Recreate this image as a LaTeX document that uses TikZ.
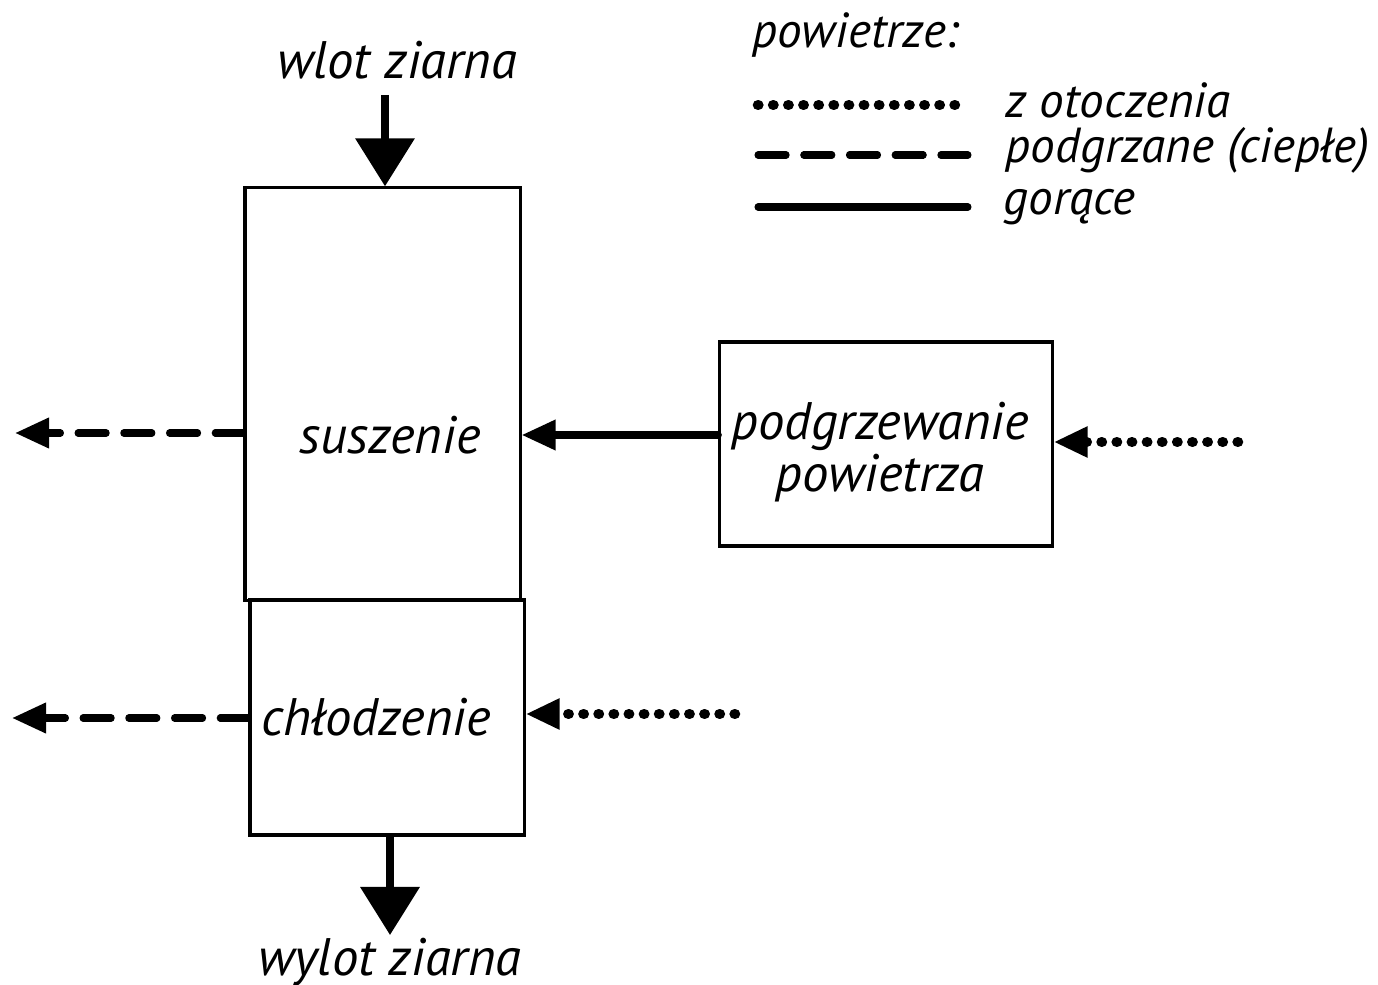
\documentclass[tikz,border=0pt]{standalone}
\usepackage{fontspec}
\setmainfont{PT Sans}
\usetikzlibrary{arrows.meta,positioning}

\begin{document}
\begin{tikzpicture}[x=0.01cm,y=-0.01cm]
\tikzset{
  procbox/.style={draw,line width=0.9pt,inner sep=0pt},
  label/.style={font=\fontsize{15}{15}\selectfont\itshape,inner sep=0pt},
  legendlabel/.style={font=\fontsize{14}{14}\selectfont\itshape,inner sep=0pt,anchor=west},
  grain/.style={line width=2pt,-{Triangle[length=4.8mm,width=5.8mm]}},
  air/.style={line width=2pt,line cap=round,-{Triangle[length=3.4mm,width=2.9mm]}},
  ambient/.style={line width=3pt,line cap=round,dash pattern=on 0.1pt off 4.2pt},
  warm/.style={dash pattern=on 8pt off 5pt},
  hot/.style={}
}
\useasboundingbox (0,0) rectangle (1378,985);
% boxes
\node[procbox,minimum width=2.75cm,minimum height=4.12cm] (n_dry) at (382.5,394) {};
\node[procbox,minimum width=2.74cm,minimum height=2.35cm] (n_cool) at (387,717.5) {};
\node[procbox,minimum width=3.32cm,minimum height=2.04cm] (n_heat) at (886,444) {};
\node[label] (t_dry) at (390,435) {suszenie};
\node[label] (t_cool) at (376,717) {chłodzenie};
\node[label,align=center] at (880,452) {podgrzewanie\\powietrza};
\node[label] (t_in) at (397,60) {wlot ziarna};
\node[label] (t_out) at (390,962) {wylot ziarna};
% free ends
\coordinate (c_in) at (385,95);
\coordinate (c_out) at (390,935);
\coordinate (c_dryout) at (15,433);
\coordinate (c_coolout) at (12,718);
\coordinate (c_heatin) at (1238,442);
\coordinate (c_coolin) at (735,714);
% grain
\draw[grain] (c_in) -- (c_in |- n_dry.north);
\draw[grain] (c_out |- n_cool.south) -- (c_out);
% air
\draw[air,warm] (n_dry.west |- c_dryout) -- (c_dryout);
\draw[air,warm] (n_cool.west |- c_coolout) -- (c_coolout);
\draw[air,hot] (n_heat.west |- 0,435) -- (n_dry.east |- 0,435);
\draw[air,ambient] (c_heatin) -- (n_heat.east |- c_heatin);
\draw[air,ambient] (c_coolin) -- (n_cool.east |- c_coolin);
% legend
\node[legendlabel] (l_head) at (752,35) {powietrze:};
\coordinate (l_a0) at (758,105); \coordinate (l_a1) at (968,105);
\coordinate (l_w0) at (758,155); \coordinate (l_w1) at (968,155);
\coordinate (l_h0) at (758,207); \coordinate (l_h1) at (968,207);
\draw[ambient] (l_a0) -- (l_a1);
\draw[line width=2pt,line cap=round,warm] (l_w0) -- (l_w1);
\draw[line width=2pt,line cap=round,hot] (l_h0) -- (l_h1);
\node[legendlabel] at (1005,100) {z otoczenia};
\node[legendlabel] at (1005,150) {podgrzane (ciepłe)};
\node[legendlabel] at (1003,207) {gorące};
\end{tikzpicture}
\end{document}
